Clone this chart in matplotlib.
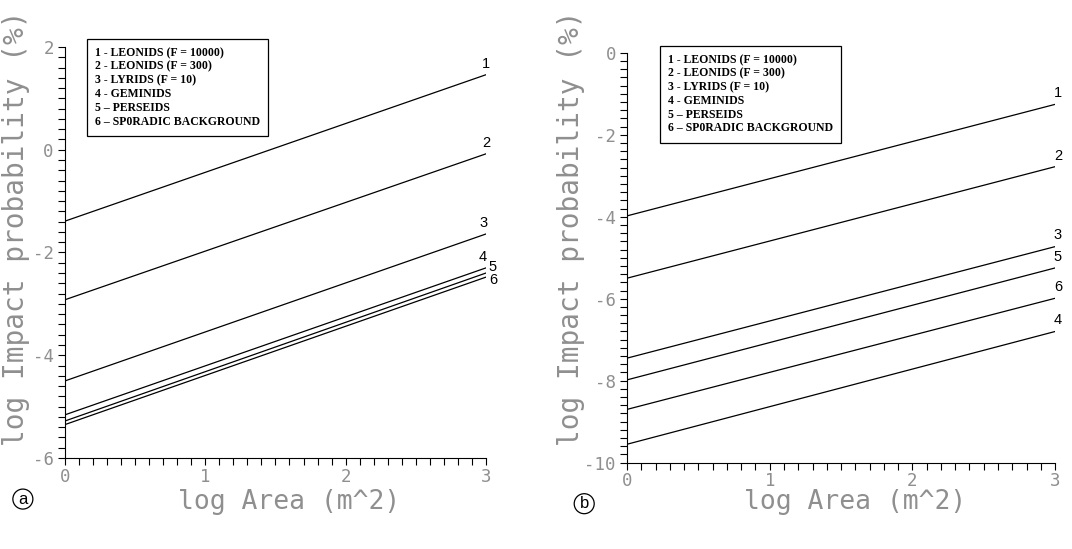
import numpy as np
import matplotlib.pyplot as plt
from matplotlib.ticker import MultipleLocator

# log area range (m^2)
log_area = [0, 3]

labels = ["1", "2", "3", "4", "5", "6"]
legend_text = ["1 - LEONIDS (F = 10000)",
               "2 - LEONIDS (F = 300)",
               "3 - LYRIDS (F = 10)",
               "4 - GEMINIDS",
               "5 \u2013 PERSEIDS",
               "6 \u2013 SP0RADIC BACKGROUND"]

# panel (a): log impact probability at log A = 0 and log A = 3
a_start = [-1.39, -2.92, -4.50, -5.16, -5.28, -5.35]
a_end = [1.46, -0.08, -1.64, -2.30, -2.40, -2.48]

# panel (b)
b_start = [-3.98, -5.50, -7.45, -9.55, -7.98, -8.70]
b_end = [-1.26, -2.78, -4.73, -6.80, -5.25, -5.99]

# label offsets (points) for the curve numbers
a_offsets = [(0, 3), (0, 3), (-2, 3), (-2, 3), (5, -1), (5, -7)]
b_offsets = [(2, 3), (2, 3), (2, 3), (2, 3), (2, 3), (2, 3)]

grey = "#8f8f8f"
mono = "DejaVu Sans Mono"
plt.rcParams["axes.unicode_minus"] = False


def draw_panel(ax, start, end, offsets, ylim, letter, legend_pos,
               ylab_pos, xlab_pos):
    for lab, s, e, off in zip(labels, start, end, offsets):
        ax.plot(log_area, [s, e], color="black", lw=0.9)
        ax.annotate(lab, xy=(log_area[1], e), xytext=off,
                    textcoords="offset points", ha="center", va="bottom",
                    fontsize=10.5, family="Liberation Sans")
    ax.set_xlim(0, 3)
    ax.set_ylim(*ylim)
    ax.xaxis.set_major_locator(MultipleLocator(1))
    ax.xaxis.set_minor_locator(MultipleLocator(0.1))
    ax.yaxis.set_major_locator(MultipleLocator(2))
    ax.yaxis.set_minor_locator(MultipleLocator(0.2))
    for sp in ["top", "right"]:
        ax.spines[sp].set_visible(False)
    ax.tick_params(which="both", direction="out", length=5, width=0.8,
                   labelcolor=grey, labelsize=12.5)
    ax.tick_params(axis="x", which="major", pad=2)
    ax.tick_params(axis="y", which="major", pad=3)
    for t in ax.get_xticklabels() + ax.get_yticklabels():
        t.set_family(mono)
    ax.set_xlabel("log Area (m^2)", family=mono, fontsize=19, color=grey)
    ax.set_ylabel("log Impact probability (%)", family=mono, fontsize=20,
                  color=grey)
    ax.yaxis.set_label_coords(*ylab_pos)
    ax.xaxis.set_label_coords(*xlab_pos)
    ax.yaxis.label.set_va("center")
    ax.xaxis.label.set_va("center")
    ax.text(*legend_pos, "\n".join(legend_text), transform=ax.transAxes,
            ha="left", va="top", family="Liberation Serif",
            fontweight="bold", fontsize=8.5, linespacing=1.19,
            bbox=dict(boxstyle="square,pad=0.68", fc="white", ec="black",
                      lw=0.9))
    ax.text(-0.1, -0.1, letter, transform=ax.transAxes, ha="center",
            va="center", fontsize=12, family="Liberation Sans",
            bbox=dict(boxstyle="circle,pad=0.15", fc="white", ec="black",
                      lw=0.9))


fig = plt.figure(figsize=(10.72, 5.49), dpi=100)
ax1 = fig.add_axes([0.0606, 0.1658, 0.3927, 0.7486])
ax2 = fig.add_axes([0.5849, 0.1572, 0.3993, 0.7468])

draw_panel(ax1, a_start, a_end, a_offsets, (-6, 2), "a", (0.071, 1.0),
           (-0.117, 0.56), (0.532, -0.108))
draw_panel(ax2, b_start, b_end, b_offsets, (-10, 0), "b", (0.096, 0.997),
           (-0.13, 0.572), (0.533, -0.097))

fig.savefig("out.png", dpi=100, facecolor="white")
